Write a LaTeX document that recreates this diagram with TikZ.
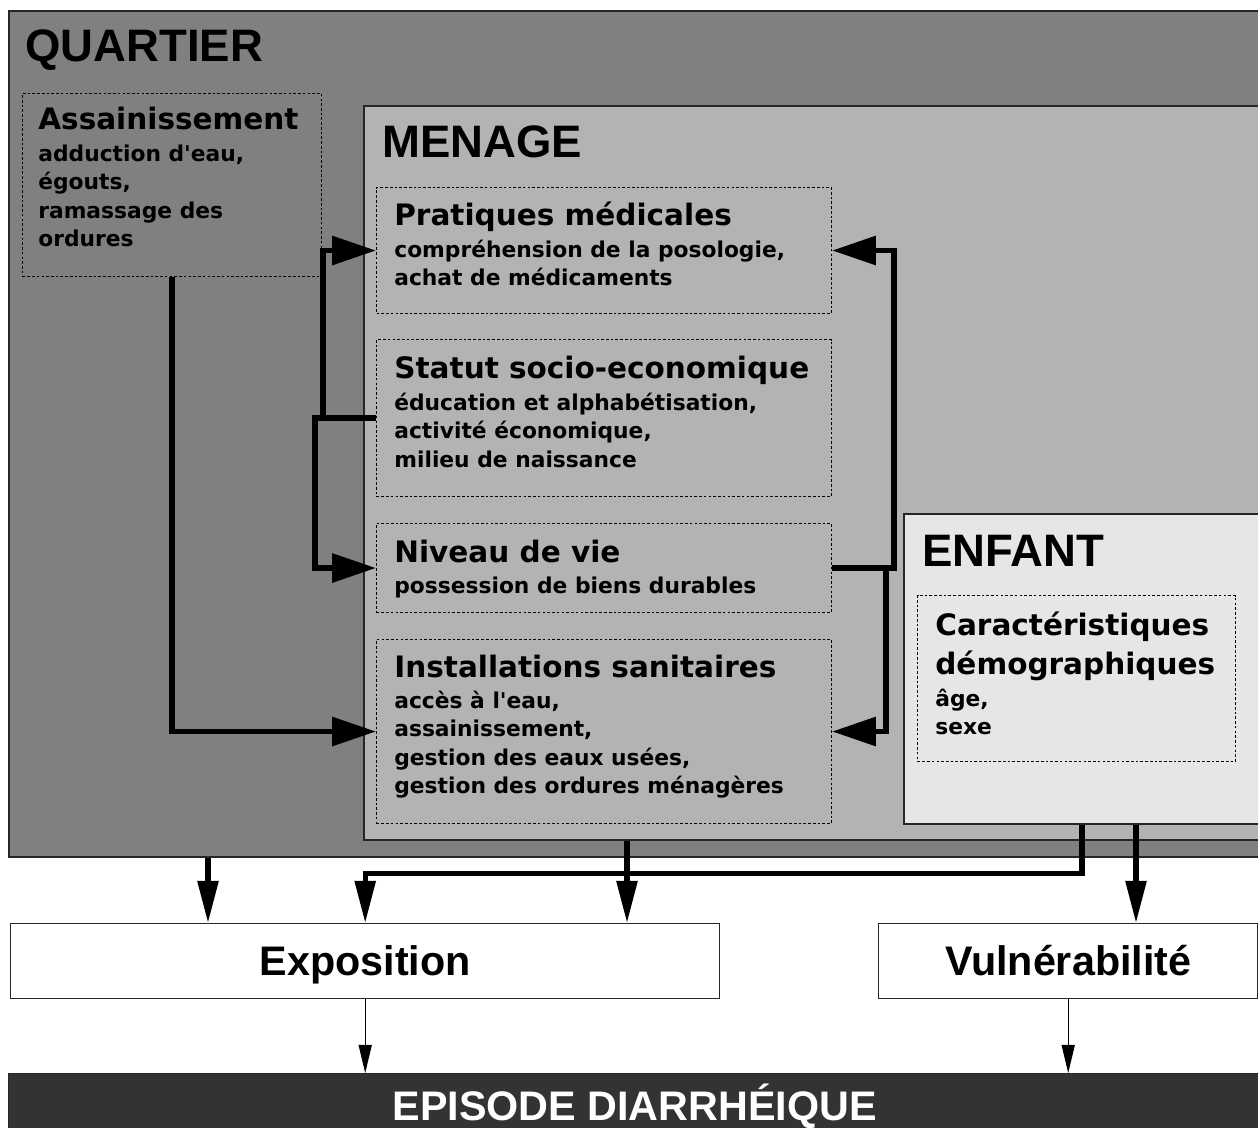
\documentclass[tikz,border=0pt]{standalone}
\usepackage{fontspec}
\setmainfont{Liberation Sans}
\newfontfamily\dejavu{DejaVu Sans}
\usepackage{xcolor}
\usetikzlibrary{arrows.meta,calc}

\definecolor{quartiergray}{HTML}{808080}
\definecolor{menagegray}{HTML}{B3B3B3}
\definecolor{enfantgray}{HTML}{E6E6E6}
\definecolor{episodegray}{HTML}{333333}

\newcommand{\pxu}{0.02cm}
\newcommand{\hdg}{\bfseries\fontsize{25.9}{30}\selectfont}
\newcommand{\ttl}{\dejavu\bfseries\fontsize{16.8}{20}\selectfont}
\newcommand{\subt}{\dejavu\bfseries\fontsize{12.4}{16}\selectfont}
\newcommand{\outc}{\bfseries\fontsize{23.5}{28}\selectfont}

% title on the first row, details below
\newcommand{\blocktext}[2]{\begin{tabular}[t]{@{}l@{}}{\ttl #1}\\[2.1pt] #2\end{tabular}}

\begin{document}
\begin{tikzpicture}[x=0.02cm, y=-0.02cm,
  zone/.style={draw=black!85, line width=0.9pt, inner sep=0pt, anchor=north west},
  dotbox/.style={draw=black, line width=0.6pt, dash pattern=on 1.5pt off 1.2pt, inner sep=0pt, anchor=north west},
  heading/.style={anchor=base west, inner sep=0pt, font=\hdg},
  block/.style={anchor=base west, inner sep=0pt, font=\subt},
  outbox/.style={draw=black!85, line width=0.8pt, fill=white, inner sep=0pt, anchor=north west, font=\outc, text height=16.8pt, text depth=0pt},
  sidearrow/.style={line width=3.3pt, -{Triangle[length=25pt,width=16pt]}},
  downarrow/.style={line width=2.9pt, -{Triangle[length=24pt,width=11.5pt]}},
  thinarrow/.style={line width=0.6pt, -{Triangle[length=16pt,width=7.5pt]}}]

  \useasboundingbox (0,0) rectangle (1258,1128);

  % nested levels
  \node[zone, fill=quartiergray, minimum width=1262*\pxu, minimum height=846*\pxu] (quartier) at (8,10) {};
  \node[zone, fill=menagegray, minimum width=907*\pxu, minimum height=734*\pxu] (menage) at (363,105) {};
  \node[zone, fill=enfantgray, minimum width=367*\pxu, minimum height=310*\pxu] (enfant) at (903,513) {};

  \node[heading] (quartierT) at ($(quartier.north west)+(17,52)$) {QUARTIER};
  \node[heading] (menageT) at ($(menage.north west)+(19,53)$) {MENAGE};
  \node[heading] (enfantT) at ($(enfant.north west)+(19,53)$) {ENFANT};

  % dotted groups of factors
  \node[dotbox, minimum width=299*\pxu, minimum height=183*\pxu] (assain) at (22,93) {};
  \node[dotbox, minimum width=455*\pxu, minimum height=126*\pxu] (pratiques) at (376,187) {};
  \node[dotbox, minimum width=455*\pxu, minimum height=157*\pxu] (statut) at (376,339) {};
  \node[dotbox, minimum width=455*\pxu, minimum height=89*\pxu] (niveau) at (376,523) {};
  \node[dotbox, minimum width=455*\pxu, minimum height=184*\pxu] (install) at (376,639) {};
  \node[dotbox, minimum width=318*\pxu, minimum height=166*\pxu] (caract) at (917,595) {};

  \node[block] (assainT) at ($(assain.north west)+(16,37)$)
    {\blocktext{Assainissement}{adduction d\textquotesingle eau,\\ égouts,\\ ramassage des\\ ordures}};
  \node[block] (pratiquesT) at ($(pratiques.north west)+(18,39)$)
    {\blocktext{Pratiques médicales}{compréhension de la posologie,\\ achat de médicaments}};
  \node[block] (statutT) at ($(statut.north west)+(18,40)$)
    {\blocktext{Statut socio-economique}{éducation et alphabétisation,\\ activité économique,\\ milieu de naissance}};
  \node[block] (niveauT) at ($(niveau.north west)+(18,39)$)
    {\blocktext{Niveau de vie}{possession de biens durables}};
  \node[block] (installT) at ($(install.north west)+(18,38)$)
    {\blocktext{Installations sanitaires}{accès à l\textquotesingle eau,\\ assainissement,\\ gestion des eaux usées,\\ gestion des ordures ménagères}};
  \node[block] (caractT) at ($(caract.north west)+(18,40)$)
    {\begin{tabular}[t]{@{}l@{}}{\ttl Caractéristiques}\\[4pt]{\ttl démographiques}\\[2.5pt] âge,\\ sexe\end{tabular}};

  % links inside the household
  \draw[sidearrow] (assain.south) |- (install.west);
  \draw[sidearrow] (statut.west) -- ++(-53,0) |- (pratiques.west);
  \draw[sidearrow] (statut.west) -- ++(-61,0) |- (niveau.west);
  \draw[sidearrow] (niveau.east) -- ++(62,0) |- (pratiques.east);
  \draw[sidearrow] (niveau.east) -- ++(54,0) |- (install.east);

  % outcomes
  \node[outbox, minimum width=709*\pxu, minimum height=75*\pxu] (expo) at (10,923) {Exposition};
  \node[outbox, minimum width=379*\pxu, minimum height=75*\pxu] (vuln) at (878,923) {Vulnérabilité};
  \node[outbox, fill=episodegray, text=white, minimum width=1252*\pxu, minimum height=64*\pxu] (episode) at (8,1073) {EPISODE DIARRHÉIQUE};

  \coordinate (expoA) at ($(expo.north west)+(198,0)$);
  \coordinate (expoC) at ($(expo.north west)+(617,0)$);
  \coordinate (vulnA) at ($(vuln.north west)+(258,0)$);
  \coordinate (enfantA) at ($(enfant.south west)+(179,0)$);

  \draw[downarrow] (quartier.south -| expoA) -- (expoA);
  \draw[downarrow] (menage.south -| expoC) -- (expoC);
  \draw[downarrow] (enfantA) -- ++(0,49) -| (expo.north);
  \draw[downarrow] (enfant.south -| vulnA) -- (vulnA);
  \draw[thinarrow] (expo.south) -- (expo.south |- episode.north);
  \draw[thinarrow] (vuln.south) -- (vuln.south |- episode.north);
\end{tikzpicture}
\end{document}
